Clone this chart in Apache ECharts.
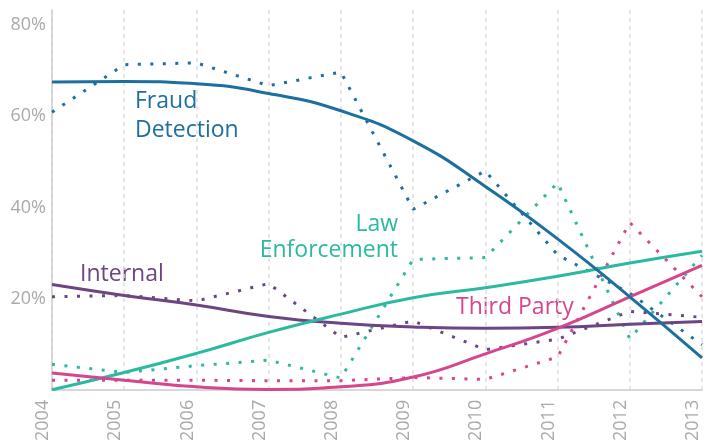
<!DOCTYPE html>
<html>
<head>
    <meta charset="utf-8">
    <title>Trends</title>
    <script src="https://cdn.jsdelivr.net/npm/echarts@6/dist/echarts.min.js"></script>
    <style>
        html, body { margin: 0; padding: 0; background: #fff; }
        #chart { width: 713px; height: 444px; }
    </style>
</head>
<body>
    <div id="chart"></div>
    <script>
        var years = [2004, 2005, 2006, 2007, 2008, 2009, 2010, 2011, 2012, 2013];
        var yTicks = [20, 40, 60, 80];

        // actual shares (dotted)
        var fraudActual = [60.9, 71.3, 71.7, 66.7, 69.7, 39.6, 48.0, 29.6, 21.2, 9.9];
        var lawActual = [5.6, 3.8, 5.3, 6.5, 2.6, 28.6, 29.0, 45.4, 11.2, 29.5];
        var internalActual = [20.4, 20.7, 19.5, 23.3, 11.5, 15.1, 8.8, 11.1, 17.2, 15.9];
        var thirdActual = [2.1, 2.1, 2.1, 2.0, 2.0, 2.7, 2.3, 7.2, 36.7, 20.4];

        // trend lines (solid)
        var fraudTrend = [67.5, 67.6, 67.1, 65.0, 61.2, 54.6, 44.6, 33.1, 20.4, 7.0];
        var lawTrend = [0, 3.8, 8.0, 12.6, 16.6, 20.2, 22.4, 24.9, 27.8, 30.4];
        var internalTrend = [23.1, 20.7, 18.6, 16.1, 14.6, 13.8, 13.5, 13.7, 14.4, 15.0];
        var thirdTrend = [3.7, 2.1, 0.65, 0.1, 0.65, 2.8, 7.9, 13.5, 20.4, 27.3];

        var blue = '#1d6f9f', teal = '#2cb9a1', purple = '#6c4683', pink = '#d5468d';

        function pairs(vals) {
            return years.map(function(y, i) { return [y, vals[i]]; });
        }
        function dotted(vals, color) {
            return {
                type: 'line', data: pairs(vals), symbol: 'none', silent: true,
                lineStyle: { color: color, width: 3, type: [3, 9.5], cap: 'butt' }
            };
        }
        function trend(vals, color) {
            return {
                type: 'line', data: pairs(vals), symbol: 'none', smooth: true, silent: true,
                lineStyle: { color: color, width: 3 }
            };
        }
        function label(text, x, y, color, align) {
            return {
                type: 'text', x: x, y: y, silent: true,
                style: {
                    text: text, fill: color, align: align || 'left', verticalAlign: 'middle',
                    font: '23px "Open Sans"'
                }
            };
        }

        var chart = echarts.init(document.getElementById('chart'));
        chart.setOption({
            animation: false,
            grid: { left: 52, right: 11, top: 10, bottom: 51 },
            xAxis: {
                type: 'value', min: 2004, max: 2013, interval: 1,
                axisLine: { lineStyle: { color: '#cccccc', width: 1.5 } },
                axisTick: { show: false },
                axisLabel: {
                    rotate: 90, margin: 10, color: '#aaaaaa', fontSize: 18,
                    fontFamily: 'Open Sans', verticalAlign: 'bottom',
                    formatter: function(v) { return String(v); }
                },
                splitLine: { show: true, lineStyle: { color: '#dddddd', width: 1.5, type: [4, 4] } }
            },
            yAxis: {
                type: 'value', min: 0, max: 83.3, interval: 20,
                axisLine: { show: true, lineStyle: { color: '#cccccc', width: 1.5 } },
                axisTick: { show: false },
                splitLine: { show: false },
                axisLabel: {
                    margin: 6, color: '#aaaaaa', fontSize: 18, fontFamily: 'Open Sans',
                    formatter: function(v) { return yTicks.indexOf(v) >= 0 ? v + '%' : ''; }
                }
            },
            series: [
                dotted(fraudActual, blue),
                dotted(lawActual, teal),
                dotted(internalActual, purple),
                dotted(thirdActual, pink),
                trend(internalTrend, purple),
                trend(lawTrend, teal),
                trend(thirdTrend, pink),
                trend(fraudTrend, blue)
            ],
            graphic: [
                label('Fraud', 135, 101, blue),
                label('Detection', 135, 130, blue),
                label('Law', 398, 224, teal, 'right'),
                label('Enforcement', 398, 250, teal, 'right'),
                label('Internal', 80, 274, purple),
                label('Third Party', 456, 307, pink)
            ]
        });
    </script>
</body>
</html>
